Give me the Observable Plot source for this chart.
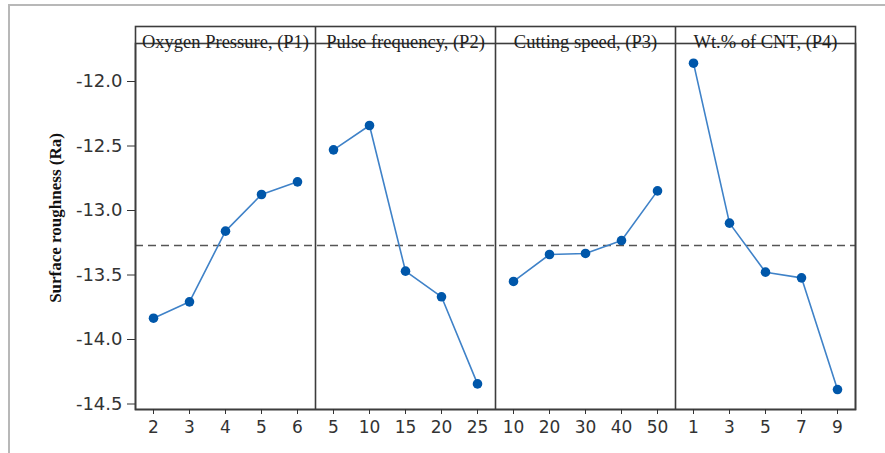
<!DOCTYPE html>
<html>
<head>
<meta charset="utf-8">
<script src="https://cdn.jsdelivr.net/npm/d3@7"></script>
<script src="https://cdn.jsdelivr.net/npm/@observablehq/plot@0.6"></script>
<style>
  html, body { margin: 0; padding: 0; background: #fff; overflow: hidden; }
  #wrap { position: relative; width: 885px; height: 453px; }
  #border { position: absolute; left: 8px; top: 4px; width: 2000px; height: 2000px;
            border-top: 2px solid #b8b8b8; border-left: 2px solid #b8b8b8; box-sizing: border-box; }
  #chart { position: absolute; left: 0; top: 0; }
</style>
</head>
<body>
<div id="wrap"><div id="border"></div><div id="chart"></div></div>
<script>
// Panels (factors)
const params = ["Oxygen Pressure, (P1)", "Pulse frequency, (P2)", "Cutting speed, (P3)", "Wt.% of CNT, (P4)"];
// Levels (x tick labels) per factor
const levelsP1 = [2, 3, 4, 5, 6];
const levelsP2 = [5, 10, 15, 20, 25];
const levelsP3 = [10, 20, 30, 40, 50];
const levelsP4 = [1, 3, 5, 7, 9];
// Mean surface roughness (Ra) per level
const valuesP1 = [-13.835, -13.708, -13.160, -12.876, -12.778];
const valuesP2 = [-12.530, -12.341, -13.470, -13.669, -14.344];
const valuesP3 = [-13.550, -13.341, -13.333, -13.233, -12.848];
const valuesP4 = [-11.858, -13.098, -13.478, -13.522, -14.388];
// Overall mean (dashed reference line)
const overallMean = -13.271;
// Y axis ticks
const yTicks = [-12.0, -12.5, -13.0, -13.5, -14.0, -14.5];
const yLabel = "Surface roughness (Ra)";

const levels = [levelsP1, levelsP2, levelsP3, levelsP4];
const values = [valuesP1, valuesP2, valuesP3, valuesP4];
const nLev = 5;

const rows = [];
params.forEach((p, g) => {
  levels[g].forEach((lv, i) => {
    rows.push({param: p, level: lv, value: values[g][i], pos: g * nLev + i});
  });
});
const tickPos = rows.map(d => d.pos);
const tickText = new Map(rows.map(d => [d.pos, String(d.level)]));
const dividers = params.slice(0, -1).map((p, g) => (g + 1) * nLev - 0.5);
const strips = params.map((p, g) => ({param: p, pos: g * nLev + (nLev - 1) / 2}));

const sans = "'DejaVu Sans', Verdana, sans-serif";
const serif = "'Liberation Serif', 'Times New Roman', serif";
const frameColor = "#3d3d3d";

const chart = Plot.plot({
  width: 885,
  height: 453,
  marginLeft: 135,
  marginRight: 30,
  marginTop: 43,
  marginBottom: 44,
  style: {background: "transparent", overflow: "visible"},
  x: {type: "linear", domain: [-0.5, rows.length - 0.5]},
  y: {domain: [-14.5426, -11.7054]},
  marks: [
    Plot.ruleY([overallMean], {stroke: "#555", strokeWidth: 1.6, strokeDasharray: "8,5"}),
    Plot.line(rows, {x: "pos", y: "value", z: "param", stroke: "#3f82c8", strokeWidth: 1.6}),
    Plot.dot(rows, {x: "pos", y: "value", r: 4.8, fill: "#0057aa", stroke: "none"}),
    Plot.ruleX(dividers, {stroke: frameColor, strokeWidth: 1.6, insetTop: -17}),
    Plot.frame({stroke: frameColor, strokeWidth: 1.6}),
    Plot.frame({stroke: frameColor, strokeWidth: 1.6, insetTop: -17}),
    Plot.text(strips, {x: "pos", text: "param", frameAnchor: "top", dy: -9,
      fontFamily: serif, fontSize: 18.5, fill: "#222"}),
    Plot.axisY({ticks: yTicks, tickFormat: d => d.toFixed(1), tickSize: 8, tickPadding: 5,
      fontSize: 18, fontFamily: sans, stroke: "#333", color: "#333", label: null}),
    Plot.axisX({ticks: tickPos, tickFormat: d => tickText.get(d), tickSize: 5, tickPadding: 6,
      fontSize: 17, fontFamily: sans, stroke: "#333", color: "#333", label: null}),
    Plot.text([yLabel], {frameAnchor: "left", textAnchor: "middle", rotate: -90, dx: -80, dy: -8.5,
      fontFamily: serif, fontWeight: "bold", fontSize: 17, fill: "#111"})
  ]
});
document.getElementById("chart").appendChild(chart);
</script>
</body>
</html>
